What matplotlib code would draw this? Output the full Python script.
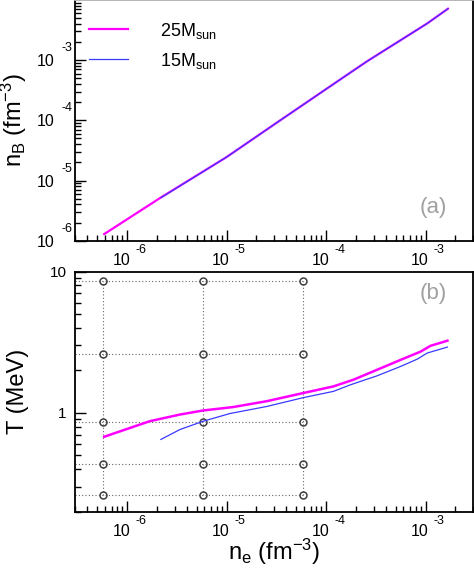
import matplotlib
matplotlib.use("Agg")
import matplotlib.pyplot as plt
import matplotlib.transforms as mtrans
from matplotlib.ticker import LogLocator, NullFormatter, FixedLocator, FixedFormatter

plt.rcParams['font.family'] = ['Liberation Sans', 'DejaVu Sans']
plt.rcParams['mathtext.fontset'] = 'custom'
plt.rcParams['mathtext.rm'] = 'Liberation Sans'
plt.rcParams['mathtext.it'] = 'Liberation Sans:italic'
plt.rcParams['mathtext.bf'] = 'Liberation Sans:bold'

# ---- data ----
labels = ["25M$_{\\rm sun}$", "15M$_{\\rm sun}$"]
# panel (a): n_B vs n_e
ne_a25 = [5.9e-7, 2.14e-6, 1.0e-5, 3.46e-5, 1.6e-4, 2.59e-4, 1.04e-3, 1.68e-3]
nb_a25 = [1.29e-6, 5.1e-6, 2.45e-5, 1.0e-4, 5.6e-4, 9.6e-4, 4.08e-3, 7.16e-3]
ne_a15 = [2.2e-6, 1.0e-5, 3.46e-5, 1.6e-4, 2.59e-4, 1.04e-3, 1.68e-3]
nb_a15 = [5.2e-6, 2.45e-5, 1.0e-4, 5.6e-4, 9.6e-4, 4.08e-3, 7.16e-3]
# panel (b): T vs n_e
ne_b25 = [5.9e-7, 1.69e-6, 3.4e-6, 5.83e-6, 1.17e-5, 2.54e-5, 5.86e-5, 1.19e-4, 1.90e-4, 3.27e-4, 5.61e-4, 8.9e-4, 1.12e-3, 1.66e-3]
T_b25 = [0.678, 0.873, 0.973, 1.04, 1.10, 1.21, 1.38, 1.54, 1.72, 2.02, 2.37, 2.71, 2.98, 3.24]
ne_b15 = [2.19e-6, 3.4e-6, 5.83e-6, 1.08e-5, 2.54e-5, 5.86e-5, 1.19e-4, 1.76e-4, 3.27e-4, 5.61e-4, 8.26e-4, 1.04e-3, 1.66e-3]
T_b15 = [0.649, 0.762, 0.873, 0.989, 1.11, 1.28, 1.42, 1.58, 1.83, 2.13, 2.40, 2.65, 2.92]
# grid of sample points in panel (b)
grid_ne = [5.8e-7, 5.8e-6, 5.9e-5]
grid_T = [8.55, 2.59, 0.86, 0.433, 0.262]

x_major = [1e-6, 1e-5, 1e-4, 1e-3]
x_exps = ["-6", "-5", "-4", "-3"]
ya_major = [1e-6, 1e-5, 1e-4, 1e-3]
ya_exps = ["-6", "-5", "-4", "-3"]
yb_major = [1, 10]
yb_labels = ["1", "10"]

MAG = '#ff00ff'
BLU = '#3a3aff'
PX = 0.72  # points per pixel at dpi 100

W, H = 474, 570
fig = plt.figure(figsize=(W / 100, H / 100), dpi=100)
axa = fig.add_axes([75 / W, 1 - 240.7 / H, 398 / W, 240.7 / H])
axb = fig.add_axes([75 / W, 1 - 511.7 / H, 398 / W, 240.2 / H])

XLIM = (3e-7, 3e-3)

def style(ax):
    ax.set_xscale('log')
    ax.set_yscale('log')
    ax.set_xlim(*XLIM)
    for s in ax.spines.values():
        s.set_linewidth(1.3)
        s.set_color('black')
    ax.tick_params(which='both', direction='in', top=False, right=False, width=1.0, color='black')
    ax.tick_params(which='major', length=8)
    ax.tick_params(which='minor', length=4.5)
    ax.xaxis.set_major_locator(FixedLocator(x_major))
    ax.xaxis.set_minor_locator(LogLocator(base=10, subs=range(2, 10), numticks=20))
    ax.xaxis.set_major_formatter(NullFormatter())
    ax.xaxis.set_minor_formatter(NullFormatter())
    ax.yaxis.set_minor_locator(LogLocator(base=10, subs=range(2, 10), numticks=20))
    ax.yaxis.set_minor_formatter(NullFormatter())
    # x tick labels: "10" and raised exponent, ROOT-like
    tb = mtrans.blended_transform_factory(ax.transData, ax.transAxes)
    for v, e in zip(x_major, x_exps):
        t1 = mtrans.offset_copy(tb, fig=fig, x=3 * PX, y=-24 * PX, units='points')
        ax.text(v, 0, "10", transform=t1, ha='right', va='baseline', fontsize=11.5)
        t2 = mtrans.offset_copy(tb, fig=fig, x=8 * PX, y=-12.5 * PX, units='points')
        ax.text(v, 0, e, transform=t2, ha='left', va='baseline', fontsize=9)

style(axa)
style(axb)

# ---- panel (a) ----
la, = axa.plot(ne_a25, nb_a25, color=MAG, lw=1.6, label=labels[0])
lb, = axa.plot(ne_a15, nb_a15, color=BLU, lw=0.9, label=labels[1])
axa.set_ylim(1e-6, 1e-2)
axa.yaxis.set_major_locator(FixedLocator(ya_major))
axa.yaxis.set_major_formatter(NullFormatter())
axa.spines['top'].set_color('#b0b0b0')
ty = mtrans.blended_transform_factory(axa.transAxes, axa.transData)
for v, e in zip(ya_major, ya_exps):
    t1 = mtrans.offset_copy(ty, fig=fig, x=-21 * PX, y=-6 * PX, units='points')
    axa.text(0, v, "10", transform=t1, ha='right', va='baseline', fontsize=11.5)
    t2 = mtrans.offset_copy(ty, fig=fig, x=-14 * PX, y=9 * PX, units='points')
    axa.text(0, v, e, transform=t2, ha='left', va='baseline', fontsize=9)
axa.set_ylabel("n$_{\\rm B}$ (fm$^{-3}$)", fontsize=17)
axa.yaxis.set_label_coords(-0.115, 0.5)
leg = axa.legend(handles=[la, lb], loc='upper left', bbox_to_anchor=(0.0, 0.97),
                 frameon=False, fontsize=13, handlelength=2.2, handletextpad=1.75,
                 labelspacing=0.55, borderaxespad=0.55, borderpad=0.2)
axa.text(0.935, 0.14, "(a)", transform=axa.transAxes, ha='right', va='center',
         fontsize=16, color='#a0a0a0', fontweight='light')

# ---- panel (b) ----
axb.hlines(grid_T, XLIM[0], max(grid_ne), colors='#666666', linestyles=(0, (1, 2)), lw=0.8, zorder=1)
axb.vlines(grid_ne, min(grid_T), max(grid_T), colors='#666666', linestyles=(0, (1, 2)), lw=0.8, zorder=1)
for xv in grid_ne:
    axb.plot([xv] * len(grid_T), grid_T, ls='none', marker='o', ms=5, mfc='none',
             mec='#404040', mew=1.1, zorder=2)
axb.plot(ne_b25, T_b25, color=MAG, lw=1.8, zorder=3)
axb.plot(ne_b15, T_b15, color=BLU, lw=0.9, zorder=3)
axb.set_ylim(0.2, 10)
axb.yaxis.set_major_locator(FixedLocator(yb_major))
axb.yaxis.set_major_formatter(FixedFormatter(yb_labels))
axb.tick_params(axis='y', which='major', labelsize=11, pad=6)
axb.set_ylabel("T (MeV)", fontsize=17)
axb.yaxis.set_label_coords(-0.115, 0.5)
axb.set_xlabel("n$_{\\rm e}$ (fm$^{-3}$)", fontsize=17)
axb.xaxis.set_label_coords(0.5, -0.105)
axb.text(0.935, 0.91, "(b)", transform=axb.transAxes, ha='right', va='center',
         fontsize=16, color='#a0a0a0', fontweight='light')

fig.savefig("out.png", dpi=100)
